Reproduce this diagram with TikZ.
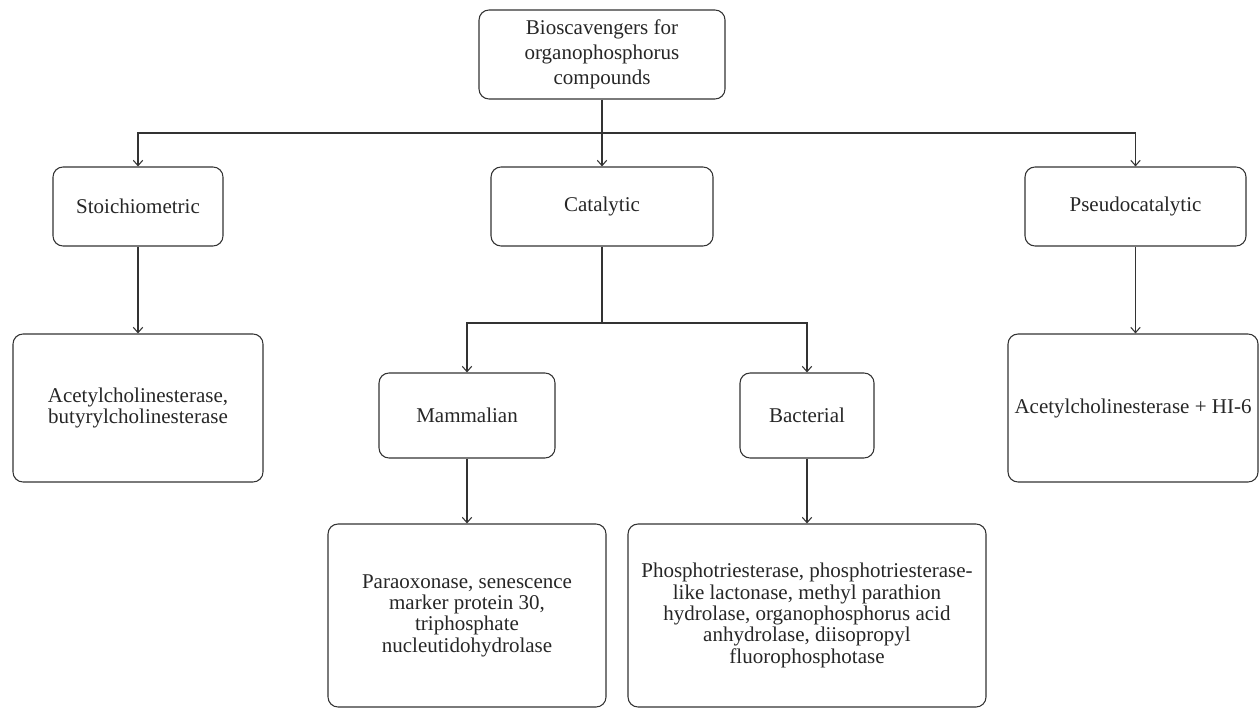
\documentclass[tikz,border=0pt]{standalone}
\usepackage{fontspec}
\setmainfont{Liberation Serif}
\usetikzlibrary{arrows.meta}

\definecolor{linegray}{HTML}{333333}
\tikzset{
  box/.style={draw, rounded corners=7.5pt, align=center, inner sep=2pt,
    font=\fontsize{15.75}{16}\selectfont, text=black!85},
  level/.style={box, minimum height=59.25pt},
  leaf/.style={box, minimum width=187.5pt, minimum height=111pt},
}

\begin{document}
\begin{tikzpicture}[->, x=0.75pt, y=-0.75pt, color=linegray, line width=0.8pt,
    >={Straight Barb[length=4pt,width=7pt]}]
    \useasboundingbox (0,0) rectangle (1259,709);

    % Define boxes
    \node[box, minimum width=184.5pt, minimum height=66.75pt,
      font=\fontsize{15.75}{18.75}\selectfont] (bio) at (602,54.5)
      {Bioscavengers for\\organophosphorus\\compounds};
    \node[level, minimum width=127.5pt] (stoich) at (138,206.5) {Stoichiometric};
    \node[level, minimum width=166.5pt] (cat) at (602,206.5) {Catalytic};
    \node[level, minimum width=165.75pt] (pseudo) at (1135.5,206.5) {Pseudocatalytic};
    \node[leaf] (ache) at (138,408) {Acetylcholinesterase,\\butyrylcholinesterase};
    \node[leaf] (hi6) at (1133,408) {Acetylcholinesterase + HI-6};
    \node[box, minimum width=132pt, minimum height=63.75pt] (mam) at (467,415.5) {Mammalian};
    \node[box, minimum width=100.5pt, minimum height=63.75pt] (bac) at (807,415.5) {Bacterial};
    \node[box, minimum width=208.5pt, minimum height=137.25pt] (pon) at (467,615.5)
      {Paraoxonase, senescence\\marker protein 30,\\triphosphate\\nucleutidohydrolase};
    \node[box, minimum width=268.5pt, minimum height=137.25pt] (pte) at (807,615.5)
      {Phosphotriesterase, phosphotriesterase-\\like lactonase, methyl parathion\\hydrolase, organophosphorus acid\\anhydrolase, diisopropyl\\fluorophosphotase};

    % Branch points
    \coordinate (split) at (602,133);
    \coordinate (catsplit) at (602,323);

    % Transitions between boxes
    \draw[-] (bio) -- (split);
    \draw (split) -| (stoich);
    \draw (split) -- (cat);
    \draw (split) -| (pseudo);
    \draw (stoich) -- (ache);
    \draw (pseudo) -- (pseudo |- hi6.north);
    \draw[-] (cat) -- (catsplit);
    \draw (catsplit) -| (mam);
    \draw (catsplit) -| (bac);
    \draw (mam) -- (pon);
    \draw (bac) -- (pte);

    \end{tikzpicture}
\end{document}
